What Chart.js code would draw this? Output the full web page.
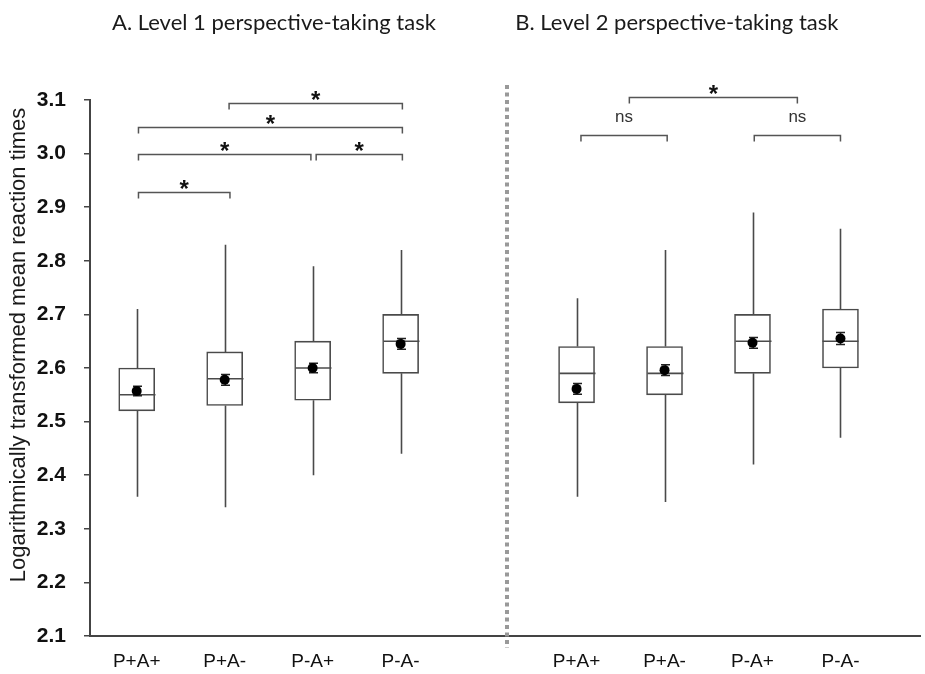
<!DOCTYPE html>
<html>
<head>
<meta charset="utf-8">
<script src="https://cdn.jsdelivr.net/npm/chart.js@4/dist/chart.umd.min.js"></script>
<style>
  html, body { margin: 0; padding: 0; background: #fff; }
  #wrap { width: 925px; height: 674px; }
</style>
</head>
<body>
<div id="wrap"><canvas id="c" width="925" height="674"></canvas></div>
<script>
// ---- data ----
const categories = ['P+A+', 'P+A-', 'P-A+', 'P-A-'];
const panelTitles = ['A. Level 1 perspective-taking task', 'B. Level 2 perspective-taking task'];
const yAxisTitle = 'Logarithmically transformed mean reaction times';
const yTicks = [2.1, 2.2, 2.3, 2.4, 2.5, 2.6, 2.7, 2.8, 2.9, 3.0, 3.1];

// Panel A (Level 1)
const whiskerLowA  = [2.36, 2.34, 2.40, 2.44];
const q1A          = [2.52, 2.53, 2.54, 2.59];
const medianA      = [2.55, 2.58, 2.60, 2.65];
const q3A          = [2.60, 2.63, 2.65, 2.70];
const whiskerHighA = [2.71, 2.83, 2.79, 2.82];
const meanA        = [2.557, 2.578, 2.600, 2.645];
const seA          = [0.009, 0.010, 0.009, 0.010];

// Panel B (Level 2)
const whiskerLowB  = [2.36, 2.35, 2.42, 2.47];
const q1B          = [2.535, 2.55, 2.59, 2.60];
const medianB      = [2.59, 2.59, 2.65, 2.65];
const q3B          = [2.64, 2.64, 2.70, 2.71];
const whiskerHighB = [2.73, 2.82, 2.89, 2.86];
const meanB        = [2.561, 2.596, 2.647, 2.655];
const seB          = [0.010, 0.010, 0.010, 0.011];

// significance brackets: from category slot to category slot (slot numbers on x axis)
const bracketFrom   = [2.05, 1.02, 1.02, 3.04, 1.02, 6.6, 6.05, 8.02];
const bracketTo     = [4.02, 4.02, 2.98, 4.02, 2.06, 8.51, 7.03, 9.0];
const bracketLevel  = [3.094, 3.050, 3.0, 3.0, 2.929, 3.106, 3.035, 3.035];
const bracketLabel  = ['*', '*', '*', '*', '*', '*', 'ns', 'ns'];

// ---- build ----
const slotsA = [1, 2, 3, 4];
const slotsB = [6, 7, 8, 9];
const slots = slotsA.concat(slotsB);
const labelsAll = categories.concat(categories);
const wLow = whiskerLowA.concat(whiskerLowB);
const q1 = q1A.concat(q1B);
const med = medianA.concat(medianB);
const q3 = q3A.concat(q3B);
const wHigh = whiskerHighA.concat(whiskerHighB);
const means = meanA.concat(meanB);
const ses = seA.concat(seB);

const INK = '#4a4a4a';

const boxPlugin = {
  id: 'boxExtras',
  beforeDatasetsDraw(chart) {
    const ctx = chart.ctx, x = chart.scales.x, y = chart.scales.y;
    ctx.save();
    ctx.strokeStyle = INK;
    ctx.lineWidth = 1.6;
    slots.forEach((s, i) => {
      const px = Math.round(x.getPixelForValue(s)) + 0.5;
      ctx.beginPath();
      ctx.moveTo(px, y.getPixelForValue(wHigh[i]));
      ctx.lineTo(px, y.getPixelForValue(q3[i]));
      ctx.moveTo(px, y.getPixelForValue(q1[i]));
      ctx.lineTo(px, y.getPixelForValue(wLow[i]));
      ctx.stroke();
    });
    ctx.restore();
  },
  afterDatasetDraw(chart, args) {
    if (args.meta.type !== 'bar') return;
    const ctx = chart.ctx, x = chart.scales.x, y = chart.scales.y;
    ctx.save();
    slots.forEach((s, i) => {
      const px = Math.round(x.getPixelForValue(s)) + 0.5;
      const my = y.getPixelForValue(med[i]);
      ctx.strokeStyle = INK;
      ctx.lineWidth = 1.6;
      ctx.beginPath();
      ctx.moveTo(px - 18, my);
      ctx.lineTo(px + 18, my);
      ctx.stroke();
      // error bars on means
      const t = y.getPixelForValue(means[i] + ses[i]);
      const b = y.getPixelForValue(means[i] - ses[i]);
      ctx.strokeStyle = '#222';
      ctx.lineWidth = 1.5;
      ctx.beginPath();
      ctx.moveTo(px, t); ctx.lineTo(px, b);
      ctx.moveTo(px - 4.5, t); ctx.lineTo(px + 4.5, t);
      ctx.moveTo(px - 4.5, b); ctx.lineTo(px + 4.5, b);
      ctx.stroke();
    });
    ctx.restore();
  },
  afterDraw(chart) {
    const ctx = chart.ctx, x = chart.scales.x, y = chart.scales.y;
    ctx.save();
    // brackets
    ctx.strokeStyle = '#555';
    ctx.lineWidth = 1.5;
    ctx.textAlign = 'center';
    bracketFrom.forEach((f, i) => {
      const x1 = x.getPixelForValue(f), x2 = x.getPixelForValue(bracketTo[i]);
      const ly = Math.round(y.getPixelForValue(bracketLevel[i])) + 0.5;
      ctx.beginPath();
      ctx.moveTo(x1, ly + 6);
      ctx.lineTo(x1, ly);
      ctx.lineTo(x2, ly);
      ctx.lineTo(x2, ly + 6);
      ctx.stroke();
      const cx = (x1 + x2) / 2;
      if (bracketLabel[i] === '*') {
        ctx.font = 'bold 24px "Liberation Sans", Arial, sans-serif';
        ctx.textBaseline = 'alphabetic';
        ctx.fillStyle = '#111';
        ctx.fillText('*', cx, ly + 4);
      } else {
        ctx.font = '17px "Liberation Sans", Arial, sans-serif';
        ctx.textBaseline = 'middle';
        ctx.fillStyle = '#333';
        ctx.fillText(bracketLabel[i], cx, ly - 18);
      }
    });
    // dotted separator between panels
    const sx = Math.round(x.getPixelForValue(5.21));
    ctx.strokeStyle = '#999';
    ctx.lineWidth = 4;
    ctx.setLineDash([4, 3.5]);
    ctx.beginPath();
    ctx.moveTo(sx, 85);
    ctx.lineTo(sx, 648);
    ctx.stroke();
    ctx.setLineDash([]);
    // panel titles
    ctx.fillStyle = '#1a1a1a';
    ctx.font = '22px Lato, "Open Sans", sans-serif';
    ctx.textBaseline = 'middle';
    ctx.textAlign = 'center';
    ctx.fillText(panelTitles[0], x.getPixelForValue(2.56), 23);
    ctx.fillText(panelTitles[1], x.getPixelForValue(7.14), 23);
    // y axis title
    ctx.save();
    ctx.translate(19, 345);
    ctx.rotate(-Math.PI / 2);
    ctx.font = '22px "Liberation Sans", Arial, sans-serif';
    ctx.fillStyle = '#1a1a1a';
    ctx.fillText(yAxisTitle, 0, 0);
    ctx.restore();
    ctx.restore();
  }
};

new Chart(document.getElementById('c'), {
  type: 'bar',
  data: {
    datasets: [
      {
        type: 'scatter',
        label: 'Mean',
        order: 0,
        data: slots.map((s, i) => ({ x: s, y: means[i] })),
        pointRadius: 5,
        pointHoverRadius: 5,
        pointBackgroundColor: '#000',
        pointBorderColor: '#000',
        pointBorderWidth: 0
      },
      {
        type: 'bar',
        label: 'IQR',
        order: 1,
        data: slots.map((s, i) => ({ x: s, y: [q1[i], q3[i]] })),
        barThickness: 36,
        backgroundColor: '#fff',
        borderColor: INK,
        borderWidth: 1.6,
        borderSkipped: false
      }
    ]
  },
  options: {
    responsive: false,
    animation: false,
    events: [],
    layout: { padding: { top: 100, left: 0, right: 0, bottom: 0 } },
    plugins: { legend: { display: false }, tooltip: { enabled: false }, title: { display: false } },
    scales: {
      x: {
        type: 'linear',
        offset: false,
        min: 0.469,
        max: 9.904,
        afterFit(scale) { scale.height = 38; },
        afterBuildTicks(scale) { scale.ticks = slots.map(v => ({ value: v })); },
        grid: { display: false, drawTicks: false, offset: false },
        border: { display: true, color: '#444', width: 2 },
        ticks: {
          padding: 14,
          autoSkip: false,
          maxRotation: 0,
          color: '#111',
          font: { family: '"Liberation Sans", Arial, sans-serif', size: 19 },
          callback: (v) => { const k = slots.indexOf(v); return k >= 0 ? labelsAll[k] : ''; }
        }
      },
      y: {
        type: 'linear',
        min: 2.1,
        max: 3.1,
        afterFit(scale) { scale.width = 90; },
        afterBuildTicks(scale) { scale.ticks = yTicks.map(v => ({ value: v })); },
        grid: { drawOnChartArea: false, drawTicks: true, tickLength: 6, color: '#444', lineWidth: 1.5 },
        border: { display: true, color: '#444', width: 2 },
        ticks: {
          padding: 18,
          color: '#111',
          font: { family: '"Liberation Sans", Arial, sans-serif', size: 21, weight: 'bold' },
          callback: (v) => v.toFixed(1)
        }
      }
    }
  },
  plugins: [boxPlugin]
});
</script>
</body>
</html>
